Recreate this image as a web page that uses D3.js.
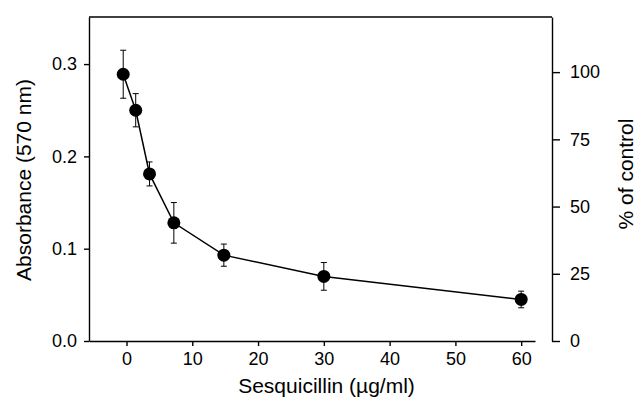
<!DOCTYPE html>
<html>
<head>
<meta charset="utf-8">
<title>Sesquicillin dose response</title>
<style>
  body { margin: 0; background: #ffffff; }
  svg { display: block; font-family: 'Liberation Sans', Arial, sans-serif; }
  .axis path, .axis line { stroke: #000; stroke-width: 1.4px; }
  .axis text { font-size: 18px; fill: #000; }
  .title { font-size: 21px; fill: #000; }
</style>
</head>
<body>
<script src="https://d3js.org/d3.v7.min.js"></script>
<script>
'use strict';
// values
const dose = [-0.5, 1.4, 3.5, 7.2, 14.8, 30, 60];            // µg/ml
const absorbance = [0.289, 0.250, 0.181, 0.128, 0.093, 0.070, 0.045];
const sd = [0.026, 0.018, 0.013, 0.022, 0.012, 0.015, 0.009];
const xTicks = [0, 10, 20, 30, 40, 50, 60];
const yTicks = [0.0, 0.1, 0.2, 0.3];
const pctTicks = [0, 25, 50, 75, 100];

const W = 639, H = 397;
const plot = {left: 89, right: 552, top: 17, bottom: 341};
const xEnd = 535; // bottom axis stops short of the right axis

const x = d3.scaleLinear().domain([-5.7, 62.1]).range([plot.left, xEnd]);
const y = d3.scaleLinear().domain([0, 0.351]).range([plot.bottom, plot.top]);
const yPct = d3.scaleLinear().domain([0, 120.5]).range([plot.bottom, plot.top]);

const svg = d3.select('body').append('svg')
  .attr('width', W)
  .attr('height', H);

// frame top line
svg.append('line')
  .attr('x1', plot.left).attr('x2', plot.right)
  .attr('y1', plot.top).attr('y2', plot.top)
  .attr('stroke', '#000').attr('stroke-width', 1.4);

// x axis
svg.append('g')
  .attr('class', 'axis')
  .attr('transform', 'translate(0,' + plot.bottom + ')')
  .call(d3.axisBottom(x).tickValues(xTicks).tickSize(5).tickSizeOuter(0).tickPadding(6).tickFormat(d3.format('d')));

// left y axis
svg.append('g')
  .attr('class', 'axis')
  .attr('transform', 'translate(' + plot.left + ',0)')
  .call(d3.axisLeft(y).tickValues(yTicks).tickSize(5).tickSizeOuter(0).tickPadding(7).tickFormat(d3.format('.1f')));

// right y axis (% of control)
svg.append('g')
  .attr('class', 'axis')
  .attr('transform', 'translate(' + plot.right + ',0)')
  .call(d3.axisRight(yPct).tickValues(pctTicks).tickSize(8).tickSizeOuter(0).tickPadding(10).tickFormat(d3.format('d')));

const data = dose.map((d, i) => ({ x: d, y: absorbance[i], e: sd[i] }));

// connecting line
svg.append('path')
  .datum(data)
  .attr('fill', 'none')
  .attr('stroke', '#000')
  .attr('stroke-width', 1.5)
  .attr('d', d3.line().x(d => x(d.x)).y(d => y(d.y)));

// error bars
const eb = svg.append('g').attr('stroke', '#000').attr('stroke-width', 1);
eb.selectAll('line.v').data(data).enter().append('line')
  .attr('x1', d => x(d.x)).attr('x2', d => x(d.x))
  .attr('y1', d => y(d.y - d.e)).attr('y2', d => y(d.y + d.e));
eb.selectAll('line.t').data(data).enter().append('line')
  .attr('x1', d => x(d.x) - 3).attr('x2', d => x(d.x) + 3)
  .attr('y1', d => y(d.y + d.e)).attr('y2', d => y(d.y + d.e));
eb.selectAll('line.b').data(data).enter().append('line')
  .attr('x1', d => x(d.x) - 3).attr('x2', d => x(d.x) + 3)
  .attr('y1', d => y(d.y - d.e)).attr('y2', d => y(d.y - d.e));

// markers
svg.selectAll('circle').data(data).enter().append('circle')
  .attr('cx', d => x(d.x))
  .attr('cy', d => y(d.y))
  .attr('r', 6.5)
  .attr('fill', '#000');

// titles
svg.append('text')
  .attr('class', 'title')
  .attr('text-anchor', 'middle')
  .attr('x', (plot.left + plot.right) / 2 + 6)
  .attr('y', 393)
  .text('Sesquicillin (\u00b5g/ml)');

svg.append('text')
  .attr('class', 'title')
  .attr('text-anchor', 'middle')
  .attr('transform', 'translate(31,180) rotate(-90)')
  .text('Absorbance (570 nm)');

svg.append('text')
  .attr('class', 'title')
  .attr('text-anchor', 'middle')
  .attr('transform', 'translate(633,174) rotate(-90)')
  .text('% of control');
</script>
</body>
</html>
